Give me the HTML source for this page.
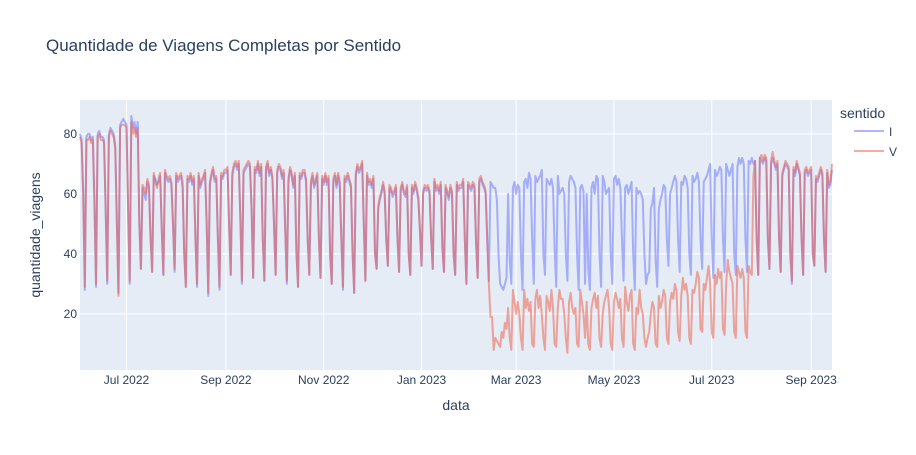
<!DOCTYPE html>
<html><head><meta charset="utf-8">
<style>
body{margin:0;background:#fff;font-family:"Liberation Sans",sans-serif;}
svg text{font-family:"Liberation Sans",sans-serif;}
</style></head>
<body>
<svg id="chart" width="916" height="450" xmlns="http://www.w3.org/2000/svg">
<rect width="916" height="450" fill="#fff"/>
<text x="46" y="51" font-size="17" fill="#2a3f5f">Quantidade de Viagens Completas por Sentido</text>
<rect x="80" y="100" width="752" height="270" fill="#e5ecf6"/>
<g id="grid"></g>
<g id="series"></g>
<g id="ticks"></g>
<text x="456" y="410" font-size="14" fill="#2a3f5f" text-anchor="middle">data</text>
<text transform="translate(40,235) rotate(-90)" font-size="14" fill="#2a3f5f" text-anchor="middle">quantidade_viagens</text>
<g>
<text x="840" y="118" font-size="14" fill="#2a3f5f">sentido</text>
<g><line x1="854" y1="131" x2="884" y2="131" stroke="#636efa" stroke-opacity="0.5" stroke-width="2"/><text x="889" y="136" font-size="12" fill="#2a3f5f">I</text></g>
<g><line x1="854" y1="151" x2="884" y2="151" stroke="#EF553B" stroke-opacity="0.5" stroke-width="2"/><text x="889" y="156" font-size="12" fill="#2a3f5f">V</text></g>
</g>
</svg>
<script>
const startDate = "2022-06-02";
const seriesI = [
80,78,60,28,79,80,80, 78,79,58,29,80,81,79, 79,78,55,30,80,82,81, 80,76,50,27,83,84,85, 84,83,55,30,86,82,84,
80,84,50,35,62,60,58, 64,62,45,34,66,65,63, 64,66,48,33,67,65,64, 65,63,50,34,66,64,65,
66,62,40,29,65,64,66, 63,65,45,29,66,62,64, 65,67,50,26,63,66,68, 64,65,45,28,66,65,67,
67,68,50,33,66,69,70, 68,70,52,30,67,68,69, 70,69,55,32,68,67,70, 66,69,45,31,68,70,66,
68,65,50,33,67,69,68, 65,67,48,30,64,68,66, 62,66,40,29,66,65,67, 67,64,45,33,63,66,62,
64,66,45,32,65,63,66, 63,65,40,30,64,66,62, 66,63,45,28,65,64,66, 64,62,40,27,66,69,67,
68,70,50,31,66,63,64, 62,65,40,35,55,58,60, 63,60,45,36,62,61,59, 60,62,45,34,61,63,60,
59,62,40,33,62,60,63, 61,58,48,36,60,62,61, 62,60,45,35,64,61,62, 60,63,42,34,62,60,58,
62,60,40,33,63,61,62, 62,64,45,30,63,62,61, 63,62,44,32,64,65,63, 62,60,45,31,64,63,62,
62,58,40,30,29,28,30, 32,60,38,30,62,64,60, 63,62,40,28,64,65,62, 67,65,45,30,66,64,65,
66,68,40,33,65,64,63, 65,62,42,29,66,60,61, 62,60,40,31,64,66,65, 64,62,40,28,62,63,61,
30,60,35,28,62,64,60, 66,65,40,29,66,64,60, 61,62,40,30,65,66,63, 65,62,45,31,62,63,60,
62,64,40,28,62,60,61, 60,58,40,30,33,34,55, 57,62,38,29,55,58,60, 63,62,45,36,60,62,64,
66,64,45,34,64,63,66, 65,62,40,33,66,64,65, 67,64,45,35,64,65,66, 68,70,45,32,68,66,67,
69,68,45,34,70,68,66, 68,70,40,33,69,72,70, 72,70,45,34,71,70,72, 70,71,45,33,72,71,70,
72,71,45,35,70,72,70, 68,70,45,34,66,68,70, 69,68,40,30,68,66,70, 68,66,45,33,67,68,66,
67,68,40,36,65,64,66, 68,66,45,34,67,62,63, 68];
const seriesV = [
79,77,60,29,78,78,79, 77,78,57,30,79,80,78, 78,77,55,31,79,81,80, 79,75,50,26,82,83,83, 83,82,55,31,84,80,82,
79,82,50,35,63,62,60, 65,63,46,34,67,64,62, 65,67,48,33,68,66,65, 66,64,50,35,67,65,66,
67,64,40,29,66,65,67, 64,66,45,30,67,63,65, 66,68,50,27,64,67,69, 65,66,45,29,67,66,68,
68,69,50,33,67,70,71, 69,71,52,31,68,69,70, 71,70,55,32,69,68,71, 67,70,45,31,69,71,67,
69,66,50,33,68,70,69, 66,68,48,31,65,69,67, 63,67,40,29,67,66,68, 68,65,45,33,64,67,63,
65,67,45,32,66,64,67, 64,66,40,30,65,67,63, 67,64,45,29,66,65,67, 65,63,40,27,67,70,68,
69,71,50,31,67,64,65, 63,66,40,35,56,59,61, 64,61,45,36,63,62,60, 61,63,45,34,62,64,61,
60,63,40,33,63,61,64, 62,59,48,36,61,63,62, 63,61,45,35,65,62,63, 61,64,42,34,63,61,59,
63,61,40,33,64,62,63, 63,65,45,30,64,63,62, 64,63,44,32,65,66,64, 63,61,44,30,19,19,8,
12,11,10,9,14,12,17, 15,22,12,8,28,24,20, 24,20,12,8,28,22,25, 21,24,10,9,25,28,22,
26,20,12,8,26,24,21, 28,22,10,9,22,28,25, 25,20,12,7,24,27,22, 20,22,10,9,28,24,20,
12,24,10,8,22,25,27, 22,26,12,9,20,24,26, 28,22,10,8,24,27,25, 22,25,12,9,29,24,21,
26,28,10,8,22,20,28, 22,20,12,9,12,14,20, 24,22,10,9,26,22,24, 28,26,12,10,24,27,25,
30,28,14,11,26,32,28, 30,26,12,10,28,27,30, 34,32,15,14,30,28,32, 36,30,14,12,33,30,35,
32,34,15,13,30,38,34, 32,30,14,12,36,34,32, 35,32,14,12,36,34,33, 66,71,45,33,72,73,71,
73,72,45,35,71,74,71, 69,71,45,34,67,69,71, 70,69,40,31,69,67,71, 69,67,45,33,68,69,67,
68,69,40,36,66,65,67, 69,67,45,34,68,63,64, 70];
const yTicks = [20, 40, 60, 80];
const xTickLabels = ["Jul 2022","Sep 2022","Nov 2022","Jan 2023","Mar 2023","May 2023","Jul 2023","Sep 2023"];
const xTickDates = ["2022-07-01","2022-09-01","2022-11-01","2023-01-01","2023-03-01","2023-05-01","2023-07-01","2023-09-01"];

const NS = "http://www.w3.org/2000/svg";
const L = 80, R = 832, T = 100, B = 370;
const DAY = 86400000;
const t0 = Date.parse(startDate);
const x0 = t0, x1 = t0 + (seriesI.length - 1) * DAY;
const yMin = 1.3, yMax = 91.3;
const xs = t => L + (t - x0) / (x1 - x0) * (R - L);
const ys = v => B - (v - yMin) / (yMax - yMin) * (B - T);

const grid = document.getElementById('grid');
const ticks = document.getElementById('ticks');
yTicks.forEach(v => {
  const ln = document.createElementNS(NS, 'line');
  
  
  ln.setAttribute('x1', L); ln.setAttribute('x2', R);
  ln.setAttribute('y1', ys(v)); ln.setAttribute('y2', ys(v));
  ln.setAttribute('stroke', '#fff'); ln.setAttribute('stroke-width', 1);
  grid.appendChild(ln);
  const tx = document.createElementNS(NS, 'text');
  
  
  tx.setAttribute('x', L - 3); tx.setAttribute('y', ys(v) + 4);
  tx.setAttribute('text-anchor', 'end'); tx.setAttribute('font-size', 12); tx.setAttribute('fill', '#2a3f5f');
  tx.textContent = v;
  ticks.appendChild(tx);
});
xTickDates.forEach((d, i) => {
  const x = xs(Date.parse(d));
  const ln = document.createElementNS(NS, 'line');
  
  
  ln.setAttribute('x1', x); ln.setAttribute('x2', x);
  ln.setAttribute('y1', T); ln.setAttribute('y2', B);
  ln.setAttribute('stroke', '#fff'); ln.setAttribute('stroke-width', 1);
  grid.appendChild(ln);
  const tx = document.createElementNS(NS, 'text');
  
  
  tx.setAttribute('x', x); tx.setAttribute('y', B + 14);
  tx.setAttribute('text-anchor', 'middle'); tx.setAttribute('font-size', 12); tx.setAttribute('fill', '#2a3f5f');
  tx.textContent = xTickLabels[i];
  ticks.appendChild(tx);
});
const ser = document.getElementById('series');
function draw(vals, color, name) {
  const p = vals.map((v, i) => (i ? 'L' : 'M') + xs(t0 + i * DAY).toFixed(2) + ',' + ys(v).toFixed(2)).join('');
  const path = document.createElementNS(NS, 'path');
  
  
  path.setAttribute('d', p);
  path.setAttribute('fill', 'none'); path.setAttribute('stroke', color);
  path.setAttribute('stroke-width', 2); path.setAttribute('stroke-opacity', 0.5);
  path.setAttribute('stroke-linejoin', 'round');
  ser.appendChild(path);
}
draw(seriesI, '#636efa', 'series-i-line');
draw(seriesV, '#EF553B', 'series-v-line');
</script>
</body></html>
